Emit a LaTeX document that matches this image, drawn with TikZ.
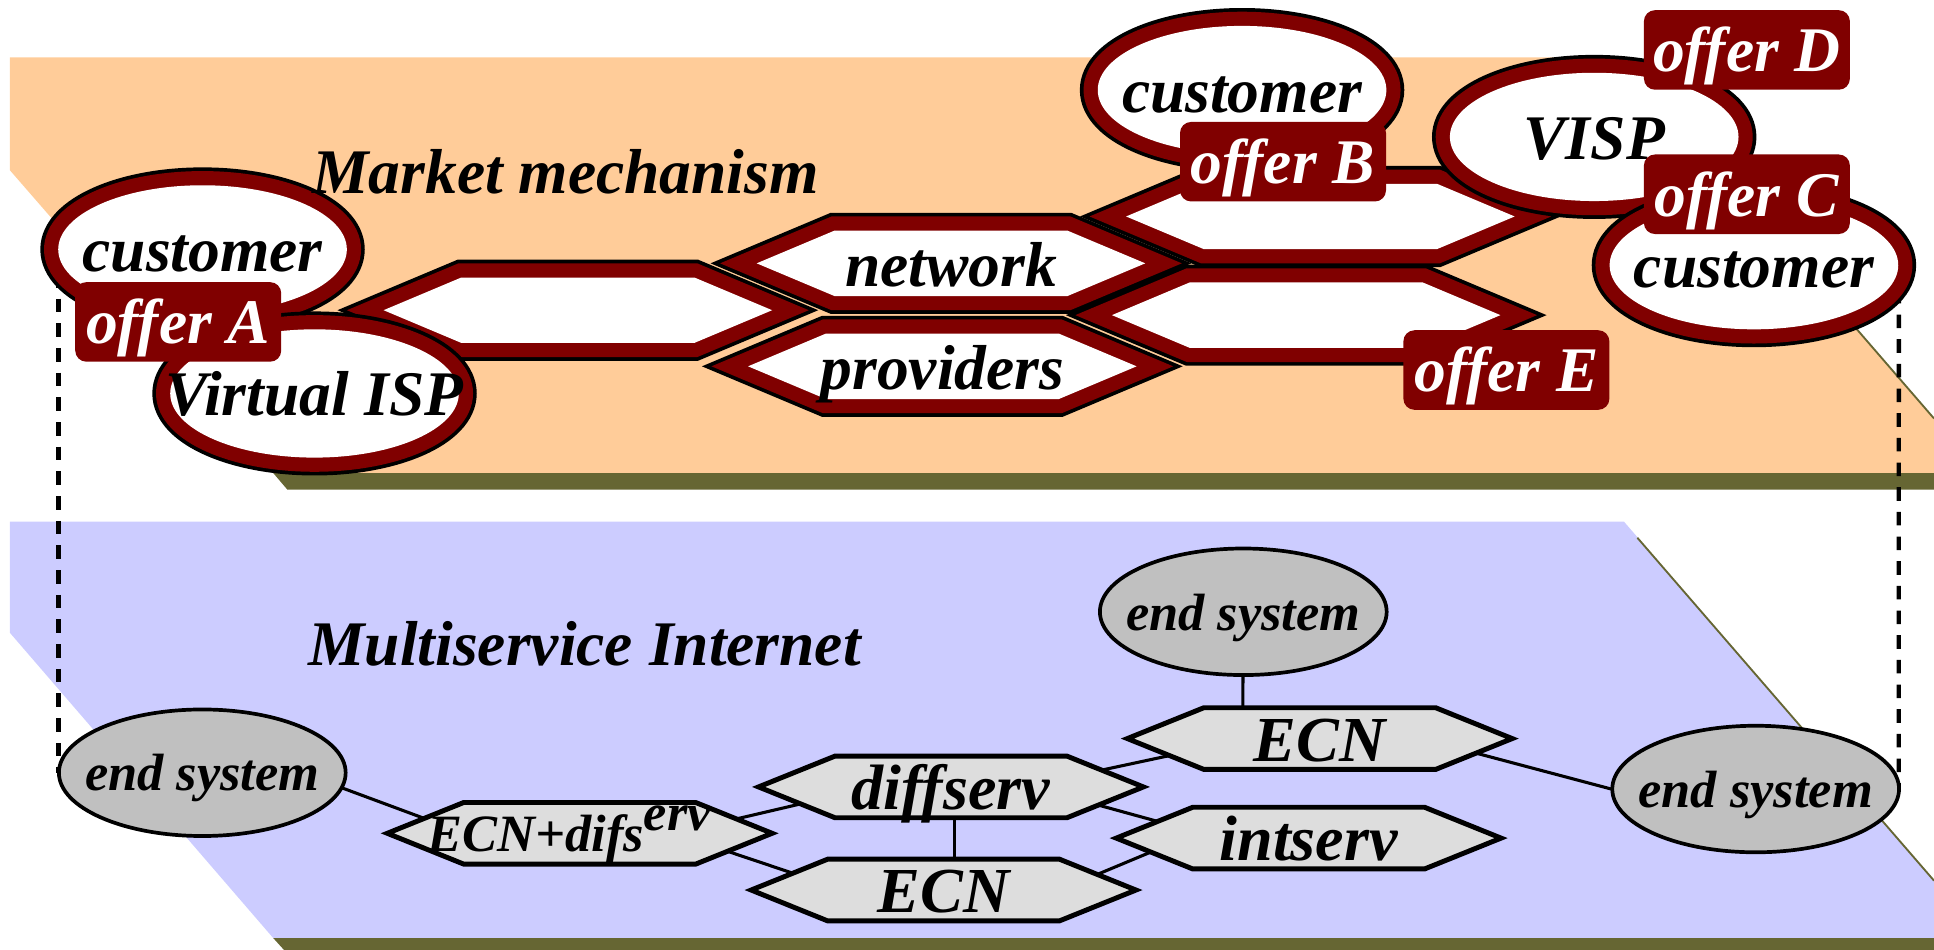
\documentclass[tikz,border=0pt]{standalone}
\usepackage{fontspec}
\setmainfont{Liberation Serif}
\usetikzlibrary{shapes.geometric,calc}
\pgfdeclarelayer{bg}
\pgfdeclarelayer{lines}
\pgfsetlayers{bg,lines,main}

\definecolor{orangeP}{HTML}{FFCC99}
\definecolor{blueP}{HTML}{CCCCFF}
\definecolor{oliveP}{HTML}{666633}
\definecolor{dred}{HTML}{800000}
\definecolor{esgray}{HTML}{C0C0C0}
\definecolor{hexgray}{HTML}{DDDDDD}

\newdimen\hexXa \newdimen\hexXb \newdimen\hexXc \newdimen\hexXd
\newdimen\hexYa \newdimen\hexYb \newdimen\hexYm \newdimen\hexC
\def\hexchamfer{60pt}

\makeatletter
\pgfdeclareshape{hexa}{%
  \inheritsavedanchors[from=rectangle]%
  \inheritanchorborder[from=rectangle]%
  \inheritanchor[from=rectangle]{center}%
  \inheritanchor[from=rectangle]{north}%
  \inheritanchor[from=rectangle]{south}%
  \inheritanchor[from=rectangle]{east}%
  \inheritanchor[from=rectangle]{west}%
  \inheritanchor[from=rectangle]{north east}%
  \inheritanchor[from=rectangle]{north west}%
  \inheritanchor[from=rectangle]{south east}%
  \inheritanchor[from=rectangle]{south west}%
  \backgroundpath{%
    \southwest \hexXa=\pgf@x \hexYa=\pgf@y
    \northeast \hexXb=\pgf@x \hexYb=\pgf@y
    \hexYm=\hexYa \advance\hexYm by \hexYb \divide\hexYm by 2
    \hexC=\hexchamfer\relax
    \hexXc=\hexXa \advance\hexXc by \hexC
    \hexXd=\hexXb \advance\hexXd by -\hexC
    \pgfpathmoveto{\pgfqpoint{\hexXa}{\hexYm}}%
    \pgfpathlineto{\pgfqpoint{\hexXc}{\hexYb}}%
    \pgfpathlineto{\pgfqpoint{\hexXd}{\hexYb}}%
    \pgfpathlineto{\pgfqpoint{\hexXb}{\hexYm}}%
    \pgfpathlineto{\pgfqpoint{\hexXd}{\hexYa}}%
    \pgfpathlineto{\pgfqpoint{\hexXc}{\hexYa}}%
    \pgfpathclose
  }%
}
\makeatother

\newcommand\mytx[1]{\makebox[0pt]{#1}}
\newcommand\bigfnt{\fontsize{51.5}{60}\selectfont\bfseries\itshape}
\newcommand\hexfnt{\fontsize{52}{60}\selectfont\bfseries\itshape}
\newcommand\smallfnt{\fontsize{42.5}{50}\selectfont\bfseries\itshape}

\tikzset{
  hex chamfer/.code={\def\hexchamfer{#1}},
  ring/.style={preaction={draw=black, line width=29pt}, draw=dred, line width=23pt, postaction={fill=white}},
  topell/.style={ring, ellipse, minimum width=234pt, minimum height=104pt, inner sep=0pt, outer sep=0pt,
                 text height=36pt, text depth=0pt, font=\bigfnt},
  tophex/.style={ring, shape=hexa, hex chamfer=63pt, minimum width=315pt, minimum height=53pt, inner sep=0pt,
                 outer sep=0pt, text height=37.5pt, text depth=0pt, font=\bigfnt},
  offer/.style={rectangle, rounded corners=9pt, fill=dred, text=white, minimum width=167pt, minimum height=64.5pt,
                inner sep=0pt, text height=35.6pt, text depth=0pt, font=\bigfnt},
  lowell/.style={ellipse, draw=black, line width=3pt, fill=esgray, minimum width=232.5pt, minimum height=102.6pt,
                 inner sep=0pt, text height=29.6pt, text depth=0pt, font=\smallfnt},
  lowhex/.style={shape=hexa, draw=black, line width=4pt, fill=hexgray, hex chamfer=62pt, minimum width=312pt,
                 minimum height=50pt, inner sep=0pt, outer sep=0pt, text height=36.5pt, text depth=0pt, font=\hexfnt},
  conn/.style={draw=black, line width=2.5pt},
  dashline/.style={draw=black, line width=3.5pt, dash pattern=on 11pt off 9pt},
  title/.style={font=\bigfnt, inner sep=0pt, anchor=base}
}

\begin{document}
\begin{tikzpicture}[x=1pt, y=-1pt, line join=miter]
\useasboundingbox (0,0) rectangle (1568,770.2);

\begin{pgfonlayer}{bg}
  \fill[orangeP] (8,46.5) -- (1315,46.5) -- (1568,339) -- (1568,383.5) -- (221.5,383.5) -- (8,138) -- cycle;
  \fill[oliveP] (221.5,383.5) -- (1568,383.5) -- (1568,397) -- (233,397) -- cycle;
  \draw[oliveP, line width=1.5pt] (1326,59.5) -- (1568,339.3);
  \fill[blueP] (8,423) -- (1316.7,423) -- (1568,713.5) -- (1568,760.5) -- (221.5,760.5) -- (8,513) -- cycle;
  \fill[oliveP] (221.5,760.5) -- (1568,760.5) -- (1568,771) -- (231,771) -- cycle;
  \draw[oliveP, line width=1.5pt] (1327.5,436) -- (1568,714);
\end{pgfonlayer}

% Market mechanism plane
\node[tophex] (hexL) at (468.5,251.5) {};
\node[tophex] (hexUR) at (1070.5,175.5) {};
\node[tophex] (hexLR) at (1059,255.5) {};
\node[tophex] (net) at (771,213.5) {network};
\node[tophex] (prov) at (764,297) {providers};
\node[topell] (cusL) at (164.2,202.2) {\mytx{customer}};
\node[topell] (visp) at (255,319) {\mytx{Virtual ISP}};
\node[topell] (cusT) at (1007,73) {\mytx{customer}};
\node[topell] (VISP) at (1292.5,111) {\mytx{VISP}};
\node[topell] (cusR) at (1422,215) {\mytx{customer}};
\node[offer] (offA) at (144.5,261) {offer A};
\node[offer] (offB) at (1040.2,131.1) {offer B};
\node[offer] (offD) at (1416.3,40.5) {offer D};
\node[offer] (offC) at (1416.3,157.5) {offer C};
\node[offer] (offE) at (1221.3,300) {offer E};
\node[title] (mm) at (458.5,156.7) {Market mechanism};

% Multiservice Internet plane
\node[title] (mi) at (474,539.7) {Multiservice Internet};
\node[lowhex, font=\smallfnt, text height=29.8pt] (ecnd) at (470,675.6) {\mytx{\kern-17pt ECN+difs\raisebox{17.5pt}{erv}}};
\node[lowhex] (dserv) at (771,638) {diffserv};
\node[lowhex] (ecnB) at (765,721.6) {ECN};
\node[lowhex] (ecnT) at (1070,598.8) {ECN};
\node[lowhex] (intserv) at (1061,679.5) {intserv};
\node[lowell] (esL) at (164,626.5) {\mytx{end system}};
\node[lowell] (esT) at (1008,496) {\mytx{end system}};
\node[lowell] (esR) at (1423.4,639.7) {\mytx{end system}};

\begin{pgfonlayer}{lines}
  \draw[conn] ($(esL)+(74,-2.3)$) -- ($(ecnd)+(-70,8.7)$);
  \draw[conn] ($(ecnd)+(90,-3)$) -- ($(dserv)+(-81,4.2)$);
  \draw[conn] ($(ecnd)+(80,1.2)$) -- ($(ecnB)+(-75,2.2)$);
  \draw[conn] ($(dserv)+(3,0)$) -- ($(ecnB)+(9,0)$);
  \draw[conn] ($(dserv)+(79,-4.4)$) -- ($(ecnT)+(-70,2.7)$);
  \draw[conn] ($(dserv)+(79,3.6)$) -- ($(intserv)+(-71,0.6)$);
  \draw[conn] ($(ecnB)+(85,3.9)$) -- ($(intserv)+(-71,-12.5)$);
  \draw[conn] (esT) -- ($(ecnT)+(-62.5,0)$);
  \draw[conn] ($(ecnT)+(80,-0.6)$) -- ($(esR)+(-73.4,11.6)$);
  \draw[dashline] ($(cusL)+(-116.7,0)$) -- ($(esL)+(-116.5,0)$);
  \draw[dashline] ($(cusR)+(117.5,0)$) -- ($(esR)+(116,0)$);
\end{pgfonlayer}
\end{tikzpicture}
\end{document}
